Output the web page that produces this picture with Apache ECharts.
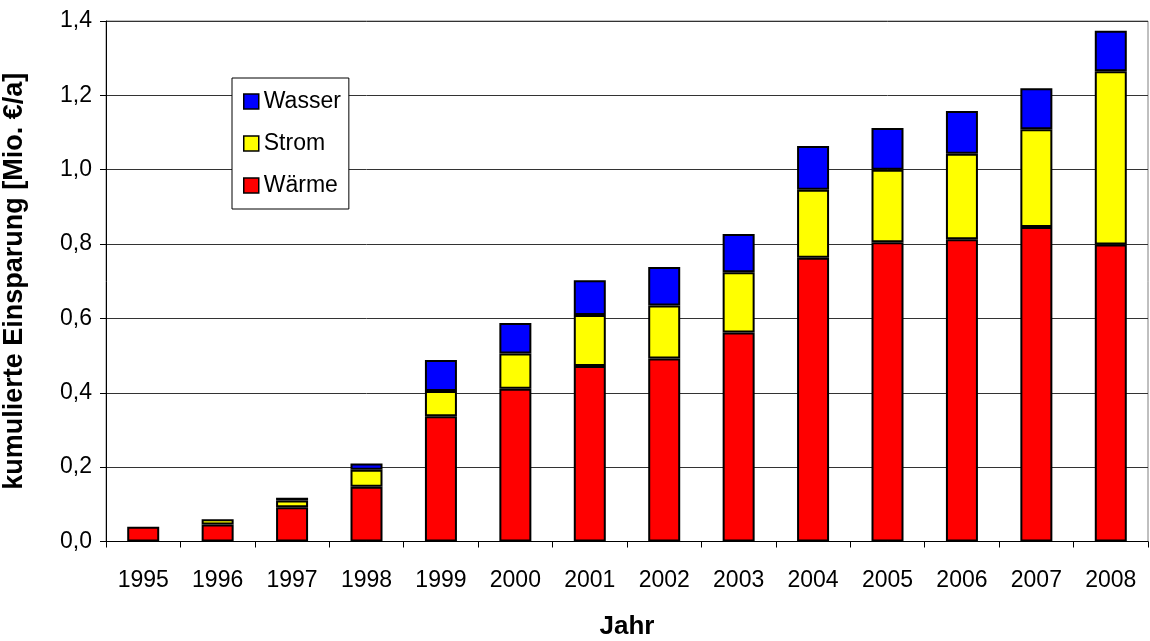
<!DOCTYPE html>
<html>
<head>
<meta charset="utf-8">
<script src="https://cdn.jsdelivr.net/npm/echarts@6/dist/echarts.min.js"></script>
<style>
  html, body { margin: 0; padding: 0; background: #fff; }
  #chart { width: 1150px; height: 641px; }
</style>
</head>
<body>
<div id="chart"></div>
<script>
// Kumulierte Einsparung je Jahr, in Mio. €/a
const years = ['1995', '1996', '1997', '1998', '1999', '2000', '2001',
               '2002', '2003', '2004', '2005', '2006', '2007', '2008'];
const waerme = [0.040, 0.046, 0.092, 0.147, 0.337, 0.411, 0.472,
                0.492, 0.562, 0.763, 0.805, 0.813, 0.846, 0.799];
const strom  = [null, 0.014, 0.018, 0.046, 0.068, 0.095, 0.137,
                0.143, 0.162, 0.183, 0.195, 0.230, 0.263, 0.466];
const wasser = [null, null, 0.008, 0.017, 0.083, 0.082, 0.094,
                0.103, 0.103, 0.118, 0.112, 0.115, 0.110, 0.109];
const legendOrder = ['Wasser', 'Strom', 'Wärme'];
const yTicks = [0, 0.2, 0.4, 0.6, 0.8, 1.0, 1.2, 1.4];

const FONT = 'Arial, "Liberation Sans", sans-serif';

const chart = echarts.init(document.getElementById('chart'), null, { renderer: 'canvas' });

function barSeries(name, data, color) {
  return {
    name: name,
    type: 'bar',
    stack: 'total',
    data: data,
    barWidth: 32,
    itemStyle: { color: color, borderColor: '#000', borderWidth: 2 },
    emphasis: { disabled: true }
  };
}

chart.setOption({
  animation: false,
  textStyle: { fontFamily: FONT, color: '#000' },
  grid: {
    left: 106, right: 2, top: 21, bottom: 99.5,
    outerBoundsMode: 'none',
    containLabel: false,
    show: true, borderColor: '#808080', borderWidth: 1, backgroundColor: '#fff'
  },
  legend: {
    data: legendOrder,
    orient: 'vertical',
    left: 232, top: 78,
    padding: [12, 8, 12, 11],
    itemGap: 19,
    itemWidth: 15, itemHeight: 15,
    icon: 'rect',
    backgroundColor: '#fff',
    borderColor: '#000', borderWidth: 1,
    itemStyle: { borderColor: '#000', borderWidth: 1.5 },
    textStyle: { fontFamily: FONT, fontSize: 23, color: '#000' },
    selectedMode: false
  },
  xAxis: {
    type: 'category',
    data: years,
    name: 'Jahr',
    nameLocation: 'middle',
    nameGap: 72,
    nameTextStyle: { fontFamily: FONT, fontSize: 26, fontWeight: 'bold', color: '#000' },
    axisLine: { lineStyle: { color: '#000', width: 1 } },
    axisTick: { show: true, length: 6, lineStyle: { color: '#000' } },
    axisLabel: { fontFamily: FONT, fontSize: 23, color: '#000', margin: 28 },
    splitLine: { show: false }
  },
  yAxis: {
    type: 'value',
    min: yTicks[0],
    max: yTicks[yTicks.length - 1],
    interval: 0.2,
    name: 'kumulierte Einsparung [Mio. €/a]',
    nameLocation: 'middle',
    nameGap: 78,
    nameTextStyle: { fontFamily: FONT, fontSize: 27, fontWeight: 'bold', color: '#000' },
    axisLine: { show: true, lineStyle: { color: '#000', width: 1 } },
    axisTick: { show: true, length: 6, lineStyle: { color: '#000' } },
    axisLabel: {
      fontFamily: FONT, fontSize: 23, color: '#000', margin: 14,
      formatter: v => v.toFixed(1).replace('.', ',')
    },
    splitLine: { show: true, lineStyle: { color: '#333', width: 1 } }
  },
  series: [
    barSeries('Wärme', waerme, '#ff0000'),
    barSeries('Strom', strom, '#ffff00'),
    barSeries('Wasser', wasser, '#0000ff')
  ]
});
</script>
</body>
</html>
